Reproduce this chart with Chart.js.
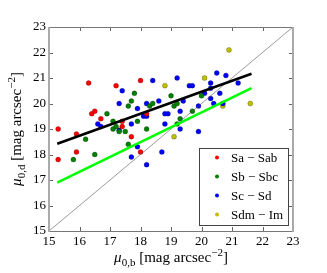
<!DOCTYPE html>
<html>
<head>
<meta charset="utf-8">
<script src="https://cdn.jsdelivr.net/npm/chart.js@4.4.0/dist/chart.umd.min.js"></script>
<style>
  html, body { margin: 0; padding: 0; background: #fff; }
  #wrap { width: 327px; height: 273px; }
</style>
</head>
<body>
<div id="wrap"><canvas id="mu-chart"></canvas></div>
<script>
// morphological type groups
const groupNames = ['Sa \u2212 Sab', 'Sb \u2212 Sbc', 'Sc \u2212 Sd', 'Sdm \u2212 Im'];
const groupColors = ['#ff0000', '#008000', '#0000ff', '#bfbf00'];

// central surface brightness: bulge (x) vs disc (y)
const saX = [15.3, 15.3, 15.9, 15.9, 16.3, 16.4, 16.5, 16.7, 17.2, 17.4, 17.4, 17.7, 18.0, 18.0, 18.2];
const saY = [19.0, 17.8, 18.8, 18.1, 20.8, 19.6, 19.7, 19.4, 20.7, 19.3, 19.1, 18.7, 20.9, 18.1, 19.6];

const sbX = [15.8, 16.2, 16.5, 16.9, 17.1, 17.1, 17.2, 17.3, 17.5, 17.6, 17.6, 17.7, 17.8, 17.9, 18.2, 18.3, 18.4, 19.0, 19.1, 19.2, 19.2, 19.3, 19.7, 20.0];
const sbY = [17.8, 18.6, 18.0, 19.6, 19.3, 19.0, 19.1, 18.9, 18.9, 18.4, 19.9, 20.1, 20.4, 19.3, 19.0, 19.9, 20.0, 20.3, 19.9, 20.0, 19.2, 19.4, 19.7, 20.3];

const scX = [16.6, 16.7, 17.3, 17.3, 17.4, 17.7, 17.7, 17.9, 17.9, 18.1, 18.2, 18.2, 18.2, 18.4, 18.6, 18.7, 18.8, 18.8, 18.9, 19.2, 19.3, 19.3, 19.4, 19.6, 19.7, 19.9, 19.9, 20.1, 20.3, 20.3, 20.3, 20.4, 20.5, 20.6, 20.7, 20.8, 21.2];
const scY = [19.2, 19.1, 20.0, 18.95, 20.5, 19.2, 17.9, 19.8, 18.3, 19.5, 19.5, 20.0, 17.6, 20.9, 20.1, 18.1, 19.6, 19.2, 19.6, 21.0, 19.7, 19.0, 20.1, 20.7, 20.7, 19.9, 18.9, 20.4, 20.8, 20.6, 20.2, 20.0, 21.2, 20.4, 20.0, 21.1, 20.8];

const sdX = [18.8, 19.1, 20.1, 20.7, 20.9, 21.6];
const sdY = [20.7, 18.7, 21.0, 19.9, 22.1, 20.0];

// fitted relations and the one-to-one line
const fitX = [15.27, 21.64];
const blackFitY = [18.42, 21.17];
const greenFitY = [16.90, 20.60];
const oneToOne = [15, 23];

const tickValues = [15, 16, 17, 18, 19, 20, 21, 22, 23];

const serif = "'Liberation Serif', 'DejaVu Serif', serif";

function pts(xs, ys) {
    return xs.map((x, i) => ({ x: x, y: ys[i] }));
}

const groupX = [saX, sbX, scX, sdX];
const groupY = [saY, sbY, scY, sdY];

const lineSets = [
    {
        type: 'line', label: 'fit', data: pts(fitX, blackFitY),
        borderColor: '#000', borderWidth: 2.6, pointRadius: 0, showLine: true, fill: false
    },
    {
        type: 'line', label: 'fit2', data: pts(fitX, greenFitY),
        borderColor: '#00ff00', borderWidth: 2.6, pointRadius: 0, showLine: true, fill: false
    },
    {
        type: 'line', label: '1:1', data: pts(oneToOne, oneToOne),
        borderColor: '#555', borderWidth: 0.6, pointRadius: 0, showLine: true, fill: false
    }
];

const pointSets = groupNames.map((name, i) => ({
    label: name,
    data: pts(groupX[i], groupY[i]),
    backgroundColor: groupColors[i],
    borderColor: 'rgba(0,0,0,0.45)',
    borderWidth: 0.5,
    pointRadius: 2.5
}));

// draws a label with a subscript and superscript, centred on 0,0
function drawAxisLabel(ctx, sub) {
    const size = 15;
    const small = Math.round(size * 0.7);
    const parts = [
        { t: '\u03bc', f: 'italic ' + size + 'px ' + serif, dy: 0 },
        { t: '0,' + sub, f: small + 'px ' + serif, dy: 4 },
        { t: ' [mag arcsec', f: size + 'px ' + serif, dy: 0 },
        { t: '\u22122', f: small + 'px ' + serif, dy: -6 },
        { t: ']', f: size + 'px ' + serif, dy: 0 }
    ];
    let total = 0;
    parts.forEach(p => { ctx.font = p.f; p.w = ctx.measureText(p.t).width; total += p.w; });
    let x = -total / 2;
    ctx.fillStyle = '#000';
    ctx.textBaseline = 'alphabetic';
    ctx.textAlign = 'left';
    parts.forEach(p => {
        ctx.font = p.f;
        ctx.fillText(p.t, x, p.dy);
        x += p.w;
    });
}

const framePlugin = {
    id: 'frame',
    afterDraw(chart) {
        const ctx = chart.ctx;
        const a = chart.chartArea;
        const xs = chart.scales.x, ys = chart.scales.y;
        ctx.save();

        // inward ticks on all four sides
        ctx.strokeStyle = '#666';
        ctx.lineWidth = 1;
        tickValues.forEach(v => {
            const px = Math.round(xs.getPixelForValue(v)) + 0.5;
            const py = Math.round(ys.getPixelForValue(v)) + 0.5;
            ctx.beginPath();
            ctx.moveTo(px, a.bottom); ctx.lineTo(px, a.bottom - 4);
            ctx.moveTo(px, a.top); ctx.lineTo(px, a.top + 4);
            ctx.moveTo(a.left, py); ctx.lineTo(a.left + 4, py);
            ctx.moveTo(a.right, py); ctx.lineTo(a.right - 4, py);
            ctx.stroke();
        });

        // spines
        ctx.strokeStyle = '#777';
        ctx.lineWidth = 1;
        ctx.beginPath();
        ctx.moveTo(a.left, a.top + 0.5); ctx.lineTo(a.right, a.top + 0.5);
        ctx.moveTo(a.left, a.bottom + 0.5); ctx.lineTo(a.right, a.bottom + 0.5);
        ctx.stroke();
        ctx.strokeStyle = '#aaa';
        ctx.lineWidth = 2;
        ctx.beginPath();
        ctx.moveTo(a.left, a.top); ctx.lineTo(a.left, a.bottom + 1);
        ctx.moveTo(a.right, a.top); ctx.lineTo(a.right, a.bottom + 1);
        ctx.stroke();

        // legend box
        const bx = 199, by = 148, bw = 89, bh = 77;
        ctx.fillStyle = '#fff';
        ctx.fillRect(bx, by, bw, bh);
        ctx.strokeStyle = '#444';
        ctx.lineWidth = 1;
        ctx.strokeRect(bx + 0.5, by + 0.5, bw, bh);
        groupNames.forEach((name, i) => {
            const ry = 157.5 + i * 19;
            ctx.beginPath();
            ctx.arc(217, ry, 2, 0, Math.PI * 2);
            ctx.fillStyle = groupColors[i];
            ctx.fill();
            ctx.fillStyle = '#000';
            ctx.font = '13px ' + serif;
            ctx.textAlign = 'left';
            ctx.textBaseline = 'middle';
            ctx.fillText(name, 231, ry + 1);
        });

        // axis titles
        ctx.save();
        ctx.translate((a.left + a.right) / 2, 262);
        drawAxisLabel(ctx, 'b');
        ctx.restore();
        ctx.save();
        ctx.translate(21, (a.top + a.bottom) / 2);
        ctx.rotate(-Math.PI / 2);
        drawAxisLabel(ctx, 'd');
        ctx.restore();

        ctx.restore();
    }
};

const tickFont = { family: serif, size: 13 };

const muChart = new Chart(document.getElementById('mu-chart'), {
    type: 'scatter',
    data: { datasets: lineSets.concat(pointSets) },
    options: {
        responsive: true,
        maintainAspectRatio: false,
        animation: false,
        layout: { padding: { left: 0, top: 27, right: 34, bottom: 0 } },
        plugins: {
            legend: { display: false },
            tooltip: { enabled: false }
        },
        scales: {
            x: {
                type: 'linear', min: 15, max: 23,
                afterFit: s => { s.height = 42; },
                grid: { display: false, drawTicks: false },
                border: { display: false },
                ticks: { stepSize: 1, color: '#000', font: tickFont, padding: 3, maxRotation: 0 }
            },
            y: {
                type: 'linear', min: 15, max: 23,
                afterFit: s => { s.width = 49; },
                grid: { display: false, drawTicks: false },
                border: { display: false },
                ticks: { stepSize: 1, color: '#000', font: tickFont, padding: 3 }
            }
        }
    },
    plugins: [framePlugin]
});
</script>
</body>
</html>
